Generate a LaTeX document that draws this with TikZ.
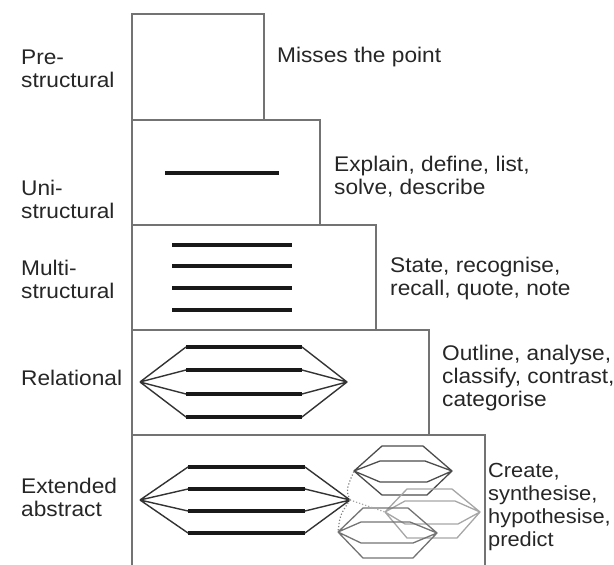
\documentclass[tikz,border=0pt]{standalone}
\usepackage{fontspec}
\setmainfont[FakeStretch=1.07]{Liberation Sans}
\begin{document}
\begin{tikzpicture}[x=1pt,y=-1pt,
  box/.style={draw=black!55,line width=1.6pt},
  bar/.style={line width=3.6pt,black!90},
  hexline/.style={line width=1.4pt,black!80,line join=round},
  lbl/.style={anchor=west,align=left,inner sep=0pt,text=black!85,font=\fontsize{21.2}{23}\selectfont}]
\useasboundingbox (0,0) rectangle (614,565);
% boxes
\draw[box] (132,120) -- (132,14) -- (264,14) -- (264,120);
\draw[box] (132,225) -- (132,120) -- (320,120) -- (320,225);
\draw[box] (132,330) -- (132,225) -- (376,225) -- (376,330);
\draw[box] (132,435) -- (132,330) -- (429,330) -- (429,435);
\draw[box] (132,566) -- (132,435) -- (485,435) -- (485,566);
% uni
\draw[bar] (165,173) -- (279,173);
% multi
\foreach \y in {245,266,288,310} \draw[bar] (172,\y) -- (292,\y);
% relational
\foreach \y in {347,370,394,417} \draw[bar] (186,\y) -- (302,\y);
\draw[hexline] (140,382) -- (186,347) (302,347) -- (347,382) -- (302,417) (186,417) -- (140,382)
  (140,382) -- (186,370) (302,370) -- (347,382) -- (302,394) (186,394) -- (140,382);
% extended abstract
\foreach \y in {467,489,511,533} \draw[bar] (188,\y) -- (305,\y);
\draw[hexline] (140,500) -- (188,467) (305,467) -- (350,500) -- (305,533) (188,533) -- (140,500)
  (140,500) -- (188,489) (305,489) -- (350,500) -- (305,511) (188,511) -- (140,500);
% small hexagons
\draw[line width=1.3pt,black!70,line join=round] (354,471) -- (382,446) -- (423,446) -- (452,471) -- (427,495) -- (382,495) -- cycle
  (354,471) -- (380,461) -- (425,461) -- (452,471) (354,471) -- (380,482) -- (427,482) -- (452,471);
\draw[line width=1.3pt,black!35,line join=round] (385,512) -- (407,489) -- (452,489) -- (480,512) -- (457,538) -- (407,538) -- cycle
  (385,512) -- (405,501) -- (455,501) -- (480,512) (385,512) -- (405,524) -- (458,524) -- (480,512);
\draw[line width=1.3pt,black!55,line join=round] (338,532) -- (363,508) -- (408,508) -- (437,533) -- (413,558) -- (363,558) -- cycle
  (338,532) -- (361,522) -- (410,522) -- (437,533) (338,532) -- (361,543) -- (413,543) -- (437,533);
\draw[line width=1.2pt,black!50,dotted] (350,500) .. controls (346,490) .. (354,471);
\draw[line width=1.2pt,black!50,dotted] (350,500) .. controls (340,515) .. (338,532);
\draw[line width=1.2pt,black!35,dotted] (350,500) -- (385,512);
% labels left
\node[lbl] (l1) at (21,68.5) {Pre-\\structural};
\node[lbl] (l2) at (21,199.5) {Uni-\\structural};
\node[lbl] (l3) at (21,279) {Multi-\\structural};
\node[lbl] (l4) at (21,378) {Relational};
\node[lbl] (l5) at (21,497.5) {Extended\\abstract};
% labels right
\node[lbl] (r1) at (277,57) {Misses the point};
\node[lbl] (r2) at (334,177) {Explain, define, list,\\solve, describe};
\node[lbl] (r3) at (390,279) {State, recognise,\\recall, quote, note};
\node[lbl] (r4) at (442,378) {Outline, analyse,\\classify, contrast,\\categorise};
\node[lbl,font=\fontsize{20.4}{23}\selectfont] (r5) at (488,507) {Create,\\synthesise,\\hypothesise,\\predict};
\end{tikzpicture}
\end{document}
